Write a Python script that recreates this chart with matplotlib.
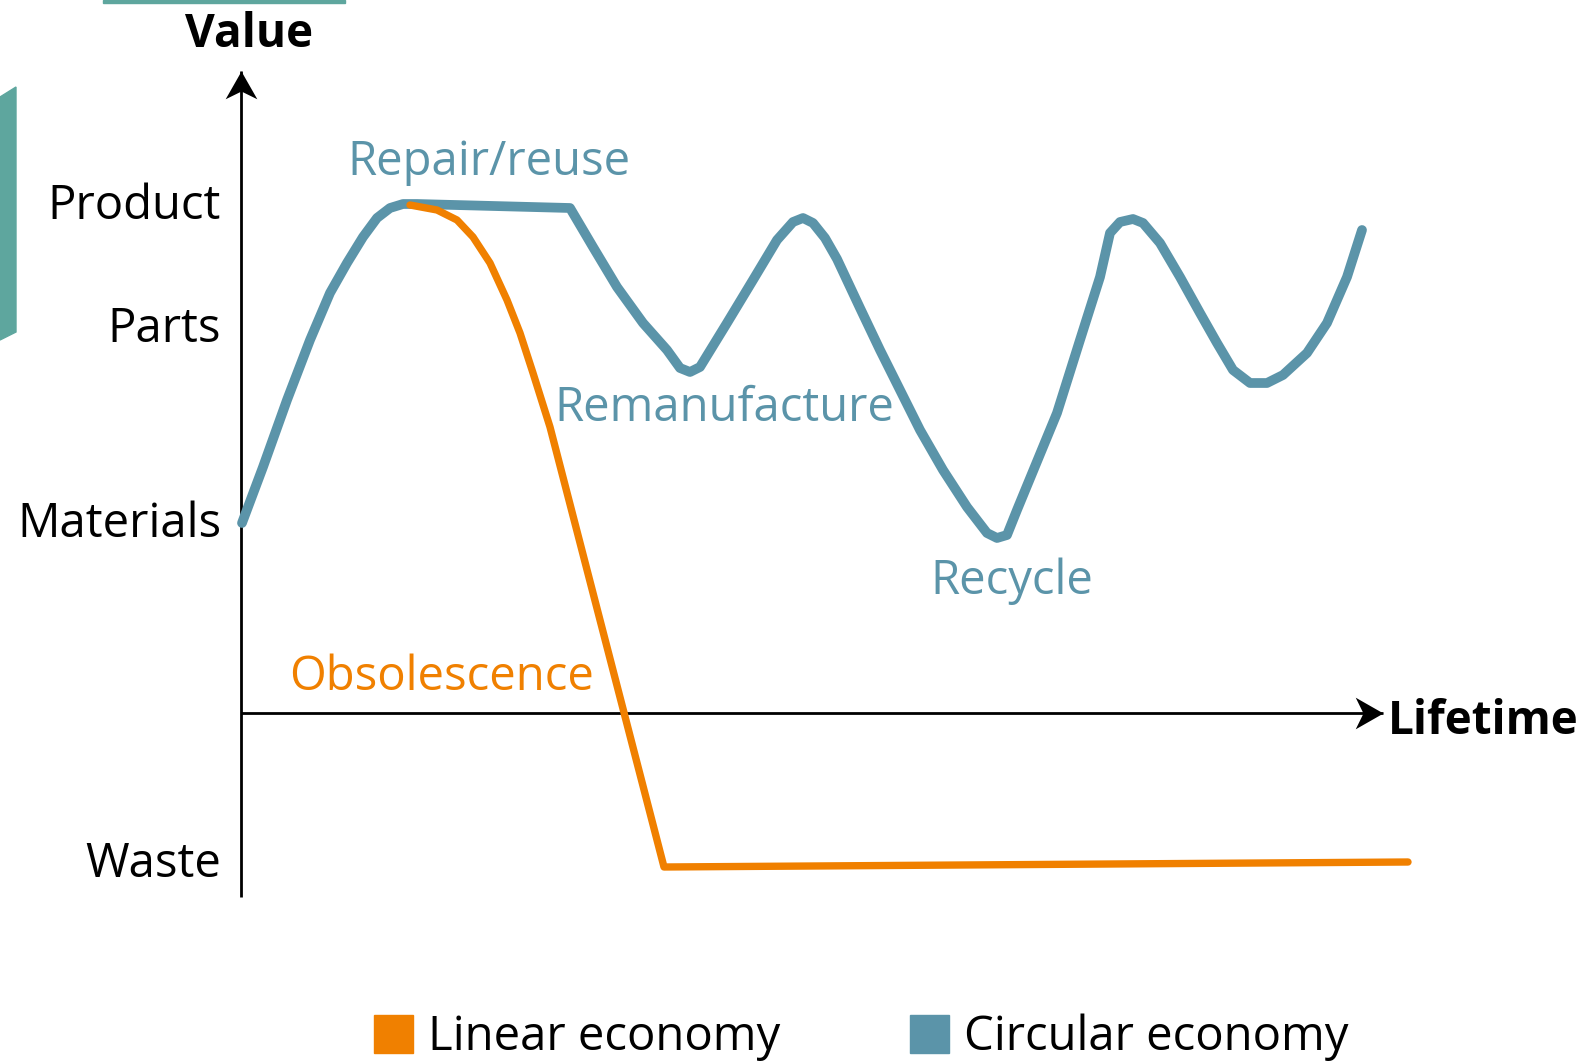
import matplotlib.pyplot as plt
from matplotlib.patches import Patch, Polygon, Rectangle
from matplotlib.path import Path

plt.rcParams['font.family'] = ['Open Sans', 'DejaVu Sans']

# value levels on the vertical axis
levels = ['Product', 'Parts', 'Materials', 'Waste']
level_y = [5.12, 3.89, 1.94, -1.46]

# circular economy curve (lifetime, value)
circ_x = [0.01, 0.22, 0.46, 0.69, 0.89, 1.06, 1.22, 1.36, 1.49, 1.62, 1.76, 3.29,
          3.52, 3.76, 4.02, 4.26, 4.39, 4.49, 4.59, 4.86, 5.12, 5.36, 5.52, 5.62, 5.72,
          5.84, 5.96, 6.19, 6.39, 6.59, 6.79, 7.02, 7.26, 7.46, 7.56, 7.66, 7.76, 8.16, 8.39,
          8.59, 8.69, 8.79, 8.92, 9.02, 9.19, 9.39, 9.59, 9.76, 9.92, 10.09, 10.26,
          10.42, 10.66, 10.86, 11.06, 11.21]
circ_y = [1.90, 2.46, 3.13, 3.73, 4.20, 4.50, 4.76, 4.95, 5.05, 5.09, 5.09, 5.05,
          4.66, 4.26, 3.90, 3.63, 3.45, 3.41, 3.46, 3.90, 4.33, 4.73, 4.91, 4.95, 4.90,
          4.75, 4.54, 4.05, 3.63, 3.23, 2.83, 2.43, 2.06, 1.80, 1.75, 1.78, 2.03, 3.00, 3.73,
          4.36, 4.80, 4.91, 4.94, 4.90, 4.70, 4.36, 4.00, 3.70, 3.43, 3.30, 3.30,
          3.38, 3.60, 3.90, 4.36, 4.83]

# linear economy curve
lin_x = [1.69, 1.96, 2.16, 2.32, 2.49, 2.66, 2.79, 2.92, 3.09, 4.23, 11.67]
lin_y = [5.08, 5.03, 4.93, 4.76, 4.50, 4.13, 3.80, 3.40, 2.86, -1.54, -1.49]

# stage annotations: text, x, y, colour key
notes = [('Repair/reuse', 1.06, 5.51, 'c'),
         ('Remanufacture', 3.13, 3.05, 'c'),
         ('Recycle', 6.89, 1.32, 'c'),
         ('Obsolescence', 0.48, 0.36, 'l')]

# axis extents
y_axis = [-1.84, 6.42]
x_axis = [0.0, 11.42]

blue = '#5b94a9'
orange = '#f08000'
teal = '#5ea69e'
cols = {'c': blue, 'l': orange}
fs = 34

fig = plt.figure(figsize=(15.89, 10.61), dpi=100)
ax = fig.add_axes([0, 0, 1, 1])
ax.set_xlim(-2.41, 13.48)
ax.set_ylim(-3.48, 7.13)
ax.axis('off')

# decorative bits at the edges
fig.patches.append(Rectangle((103 / 1589, 1 - 3 / 1061), 242 / 1589, 3 / 1061,
                             transform=fig.transFigure, color=teal))
fig.patches.append(Polygon([(0, 1 - 97 / 1061), (16 / 1589, 1 - 87 / 1061),
                            (16 / 1589, 1 - 332 / 1061), (0, 1 - 340 / 1061)],
                           closed=True, transform=fig.transFigure, color=teal))

# axes with stealth-like arrowheads
up_head = Path([(0, 0), (0.57, -1), (0, -0.72), (-0.57, -1), (0, 0)],
               [Path.MOVETO, Path.LINETO, Path.LINETO, Path.LINETO, Path.CLOSEPOLY])
right_head = Path([(0, 0), (-1, 0.57), (-0.72, 0), (-1, -0.57), (0, 0)],
                  [Path.MOVETO, Path.LINETO, Path.LINETO, Path.LINETO, Path.CLOSEPOLY])
ax.plot([0, 0], y_axis, color='black', lw=2, solid_capstyle='butt')
ax.plot(x_axis, [0, 0], color='black', lw=2, solid_capstyle='butt')
ax.plot([0], [y_axis[1]], marker=up_head, ms=40, color='black', mew=0)
ax.plot([x_axis[1]], [0], marker=right_head, ms=40, color='black', mew=0)

ax.plot(circ_x, circ_y, color=blue, lw=7, solid_capstyle='round', solid_joinstyle='round')
ax.plot(lin_x, lin_y, color=orange, lw=5.3, solid_capstyle='round', solid_joinstyle='round')

for name, y in zip(levels, level_y):
    ax.text(-0.20, y - 0.05, name, ha='right', va='center', fontsize=fs)

ax.text(0.08, 6.78, 'Value', ha='center', va='center', fontsize=33, fontweight='bold')
ax.text(11.47, -0.09, 'Lifetime', ha='left', va='center', fontsize=33, fontweight='bold')

for txt, x, y, k in notes:
    ax.text(x, y, txt, ha='left', va='center', fontsize=fs, color=cols[k])

handles = [Patch(color=orange, label='Linear economy'),
           Patch(color=blue, label='Circular economy')]
fig.legend(handles=handles, loc='center', bbox_to_anchor=(0.542, 0.022), ncol=2,
           frameon=False, fontsize=fs, handlelength=0.82, handleheight=0.86,
           handletextpad=0.32, columnspacing=2.75)

fig.savefig('out.png', dpi=100)
